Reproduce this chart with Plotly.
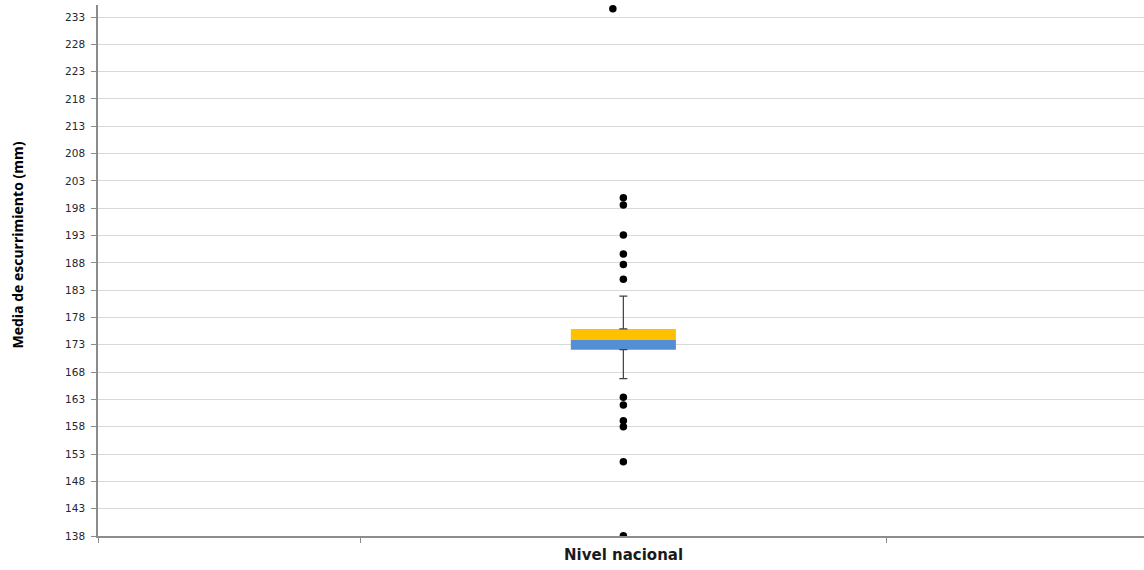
import plotly.graph_objects as go

# Box statistics (mm)
category = "Nivel nacional"
q1 = 172.1
median = 173.9
q3 = 175.9
whisker_low = 166.8
whisker_high = 181.9

# Outliers
outliers = [234.5, 199.9, 198.6, 193.1, 189.6, 187.7, 185.0,
            163.4, 162.0, 159.1, 158.0, 151.6, 138.05]
outlier_offsets = [-0.02, 0, 0, 0, 0, 0, 0, 0, 0, 0, 0, 0, 0]

ytick_vals = list(range(138, 234, 5))

fig = go.Figure()

# lower half of box (Q1 -> median)
fig.add_trace(go.Bar(x=[0], y=[median - q1], base=[q1], width=0.2,
                     marker=dict(color="#558ED5", line=dict(width=0)),
                     showlegend=False, hoverinfo="skip"))
# upper half of box (median -> Q3)
fig.add_trace(go.Bar(x=[0], y=[q3 - median], base=[median], width=0.2,
                     marker=dict(color="#FFC000", line=dict(width=0)),
                     showlegend=False, hoverinfo="skip"))

# whiskers
fig.add_trace(go.Scatter(x=[0, 0], y=[q3, q1], mode="markers",
                         marker=dict(size=1, color="rgba(0,0,0,0)"),
                         error_y=dict(type="data", symmetric=False,
                                      array=[whisker_high - q3, 0],
                                      arrayminus=[0, q1 - whisker_low],
                                      color="#404040", thickness=1.2, width=4),
                         showlegend=False, hoverinfo="skip"))

# outliers
fig.add_trace(go.Scatter(x=outlier_offsets, y=outliers, mode="markers",
                         marker=dict(size=7.5, color="black"),
                         showlegend=False))

fig.update_layout(
    width=1144, height=570,
    margin=dict(l=98, r=0, t=5, b=34),
    paper_bgcolor="white", plot_bgcolor="white",
    barmode="overlay",
    font=dict(family="DejaVu Sans", color="#404040"),
    xaxis=dict(range=[-1.0, 0.991], showgrid=False, zeroline=False,
               showline=True, linecolor="#8C8C8C", linewidth=1.5,
               tickvals=[0], ticktext=[""], ticks="",
               minor=dict(tickvals=[-1, -0.5, 0.5], ticks="outside",
                          ticklen=5, tickcolor="#8C8C8C", showgrid=False)),
    yaxis=dict(range=[138, 235.2], tickvals=ytick_vals,
               showgrid=True, gridcolor="#D9D9D9", gridwidth=1,
               zeroline=False, showline=True, linecolor="#8C8C8C",
               linewidth=1.5, ticks="outside", ticklen=5, ticklabelstandoff=4,
               tickcolor="#8C8C8C", tickfont=dict(size=10.5, color="#262630")),
)

fig.add_annotation(text="<b>Media de escurrimiento (mm)</b>",
                   xref="paper", yref="paper", x=-92 / 1046, y=0.548,
                   textangle=-90, showarrow=False,
                   font=dict(family="Open Sans", size=14, color="black"))
fig.add_annotation(text="<b>%s</b>" % category, xref="x", yref="paper",
                   x=0, y=0, yshift=-30, showarrow=False,
                   font=dict(family="DejaVu Sans", size=15, color="#1A1A1A"))

fig.write_html("out.html", config={"displayModeBar": False},
               post_script="document.body.style.margin='0px';")
